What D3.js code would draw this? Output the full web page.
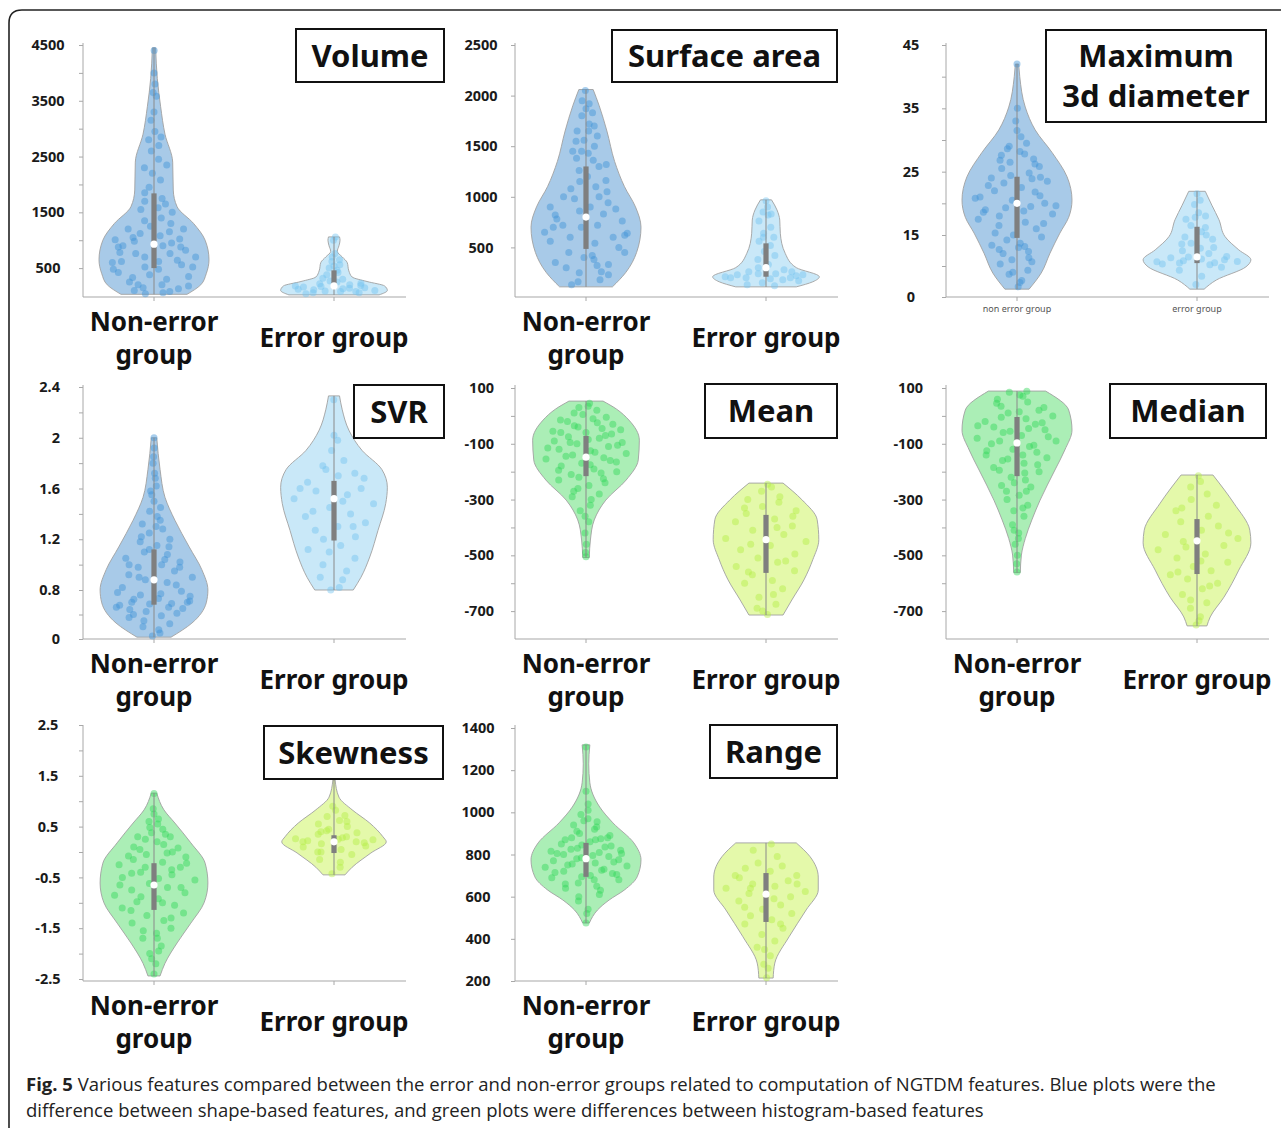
<!DOCTYPE html>
<html>
<head>
<meta charset="utf-8">
<script src="https://cdn.jsdelivr.net/npm/d3@7"></script>
<style>
  body { margin: 0; background: #fff; }
  svg { display: block; }
</style>
</head>
<body>
<div class="figContainer"></div>
<script>
// category labels
var groupNames = [ [ 'Non-error' , 'group' ] , [ 'Error group' ] ];
var smallGroupNames = [ 'non error group' , 'error group' ];

// shape = [value, relative density], box = [q1, median, q3], points = [jitter, value]

// ---- Volume ----
var volumeTicks = [ 500 , 1000 , 1500 , 2000 , 2500 , 3000 , 3500 , 4000 , 4500 ];
var volumeTickLabels = [ '500' , '' , '1500' , '' , '2500' , '' , '3500' , '' , '4500' ];
var volumeNonErrShape = [ [30,.6],[200,.85],[400,.95],[650,1],[1000,.93],[1300,.72],[1600,.42],[1900,.35],[2400,.34],[2900,.2],[3400,.12],[3900,.06],[4450,.03] ];
var volumeNonErrBox = [ 500 , 930 , 1840 ];
var volumeNonErrPoints = [ [-.7,620],[.5,80],[-.3,150],[.8,350],[-.9,600],[.2,900],[-.5,1050],[.6,1020],[-.1,1250],[.4,1150],[-.6,250],[.1,480],[-.8,880],[.9,700],[.3,300],[-.4,760],[.7,820],[-.2,520],[.5,1300],[-.7,1200],[.2,1580],[-.5,1700],[.6,1650],[-.3,1950],[.4,2080],[-.6,2300],[.8,2350],[-.1,2200],[.3,2450],[-.5,2800],[.7,2850],[.1,2950],[-.4,3150],[.5,3580],[-.2,3650],[.3,3800],[0,4000],[.1,4400],[-.8,420],[.9,180],[-.3,40],[.6,560],[-.6,100],[.2,200],[.4,950],[-.9,1010],[.75,1500],[-.55,1850],
    [.3,60],[-.5,330],[.7,130],[-.2,700],[.5,640],[-.75,780],[.15,1080],[-.35,1120],[.85,520],[-.9,480],[.35,760],[-.1,380],[.6,880],[-.45,980],[.25,1400],[-.6,1550],[.45,1750],[-.2,2600],[.4,2700],[0,3300],[-.3,1350],[.8,1200],[-.7,900],[.1,620],[-.4,200] ];
var volumeErrShape = [ [20,.82],[100,.97],[180,.92],[260,.6],[340,.33],[450,.27],[600,.24],[700,.15],[800,.06],[900,.09],[1000,.11],[1060,.1] ];
var volumeErrBox = [ 130 , 180 , 460 ];
var volumeErrPoints = [ [-.8,120],[.7,150],[-.5,60],[.4,200],[-.2,90],[.9,100],[-.9,180],[.2,130],[.6,60],[-.4,220],[.1,250],[-.7,40],[.8,230],[-.3,170],[.5,80],[-.6,320],[.3,420],[-.4,500],[.5,560],[-.2,620],[.6,650],[0,540],[-.5,380],[.2,760],[-.1,1000],[.3,1060],[.4,300],
    [.35,140],[-.45,110],[.65,190],[-.15,270],[.15,80],[-.7,160],[.25,460],[-.25,700] ];

// ---- Surface area ----
var surfaceTicks = [ 500 , 1000 , 1500 , 2000 , 2500 ];
var surfaceTickLabels = [ '500' , '1000' , '1500' , '2000' , '2500' ];
var surfaceNonErrShape = [ [110,.48],[250,.72],[450,.92],[700,1],[900,.9],[1100,.7],[1350,.52],[1650,.38],[1900,.24],[2060,.13] ];
var surfaceNonErrBox = [ 485 , 800 , 1300 ];
var surfaceNonErrPoints = [ [-.6,130],[.5,180],[-.2,250],[.7,230],[-.8,350],[.3,320],[-.4,450],[.9,450],[-.9,650],[.2,540],[.6,600],[-.5,720],[.8,760],[-.1,700],[.4,830],[-.7,820],[.1,900],[-.3,980],[.6,1050],[-.6,1000],[.3,1100],[-.2,1150],[.5,1300],[-.4,1380],[.8,1320],[.1,1430],[-.6,1450],[.4,1500],[-.1,1560],[.6,1600],[-.5,1650],[.2,1720],[-.3,1800],[.5,1830],[0,1870],[-.1,2050],[.3,1920],[-.8,560],[.7,880],[.9,640],[-.3,160],[.2,380],
    [.45,260],[-.55,300],[.15,420],[-.35,600],[.75,500],[-.65,780],[.25,720],[-.15,860],[.55,940],[-.85,900],[.35,1000],[-.45,1080],[.05,1200],[.65,1160],[-.25,1260],[.3,1360],[-.5,1550],[.5,1700],[-.2,1450],[.15,1650],[-.7,700],[.85,620],[-.05,400],[.6,330],[-.4,1950] ];
var surfaceErrShape = [ [110,.55],[160,.85],[210,.97],[300,.55],[440,.35],[640,.26],[770,.25],[870,.2],[970,.1] ];
var surfaceErrBox = [ 210 , 300 , 540 ];
var surfaceErrPoints = [ [-.8,200],[.7,220],[-.5,260],[.4,180],[-.2,240],[.9,230],[-.6,130],[.3,120],[.6,280],[-.3,300],[.1,190],[-.9,210],[.8,170],[-.4,380],[.5,420],[-.1,460],[.3,520],[-.5,560],[.6,600],[-.2,640],[.4,700],[-.6,760],[.2,820],[-.3,850],[.5,830],[0,960],[.2,900],
    [.25,240],[-.7,230],[.55,200],[-.1,150],[.75,260],[-.45,200],[.1,330],[-.2,600] ];

// ---- Maximum 3d diameter ----
var diameterTicks = [ 0 , 7.5 , 15 , 20 , 25 , 30 , 35 , 40 , 45 ];
var diameterTickLabels = [ '0' , '' , '15' , '' , '25' , '' , '35' , '' , '45' ];
var diameterNonErrShape = [ [1.9,.22],[5.8,.44],[10.6,.6],[15.3,.78],[17.8,.94],[20.5,1],[24.2,.91],[28,.64],[31.6,.33],[35.2,.15],[40,.05],[42,.03] ];
var diameterNonErrBox = [ 14.3 , 20 , 24.2 ];
var diameterNonErrPoints = [ [.1,2.5],[.3,4],[-.4,5.5],[.5,6.5],[-.7,8],[-.2,9],[.6,8.5],[-.5,10.5],[.4,11],[-.8,12.5],[.1,13],[-.3,13.8],[.7,14.5],[-.6,15.3],[.5,16],[-.9,17.5],[.2,17],[-.4,18],[.8,18.3],[-.7,19],[.3,19.5],[-.1,20.5],[.6,20],[-.9,20.8],[.4,21.8],[-.5,22],[.1,22.5],[-.3,23.2],[.7,23.5],[-.6,24],[.3,24.8],[-.4,25.5],[.6,25.8],[-.2,26.5],[.5,27],[-.5,27.6],[.1,28.2],[-.3,29],[.4,29.5],[0,31.5],[.05,35],[0,42],
    [.2,3.5],[-.2,6],[.45,9.5],[-.6,11.5],[.25,12.2],[-.1,15],[.65,16.8],[-.45,16.5],[.15,18.8],[-.8,21],[.5,21.2],[-.25,19.3],[.85,19.6],[-.65,22.8],[.35,23.9],[-.15,24.4],[.5,26.2],[-.5,26.8],[.25,27.8],[-.35,28.6],[.2,30.5],[-.1,33],[.55,24.1],[-.75,18.6],[.05,12] ];
var diameterErrShape = [ [1.9,.13],[4.1,.35],[7.3,.89],[9,.98],[11.4,.76],[14.6,.51],[17.4,.4],[19.7,.27],[21.9,.15] ];
var diameterErrBox = [ 8.2 , 9.7 , 16.3 ];
var diameterErrPoints = [ [-.1,3],[.2,5],[-.5,6.5],[.6,7.2],[-.8,8],[.4,8.3],[.9,8.6],[-.3,8.8],[.1,9.2],[-.6,9.5],[.7,9.8],[-.9,8.5],[.3,10.5],[-.4,11.2],[.5,12],[-.2,13],[.6,14],[-.5,14.5],[.2,15.5],[-.3,16.5],[.4,16.2],[-.6,17.5],[.1,18.5],[.5,18],[-.2,19.8],[.3,20.5],[0,21.5],
    [.3,7.8],[-.4,8.2],[.6,9],[-.2,9.7],[.1,11.8],[-.5,12.8],[.4,15],[-.1,17.8] ];

// ---- SVR ----
var svrTicks = [ 0 , .4 , .8 , 1 , 1.2 , 1.4 , 1.6 , 1.8 , 2 , 2.2 , 2.4 ];
var svrTickLabels = [ '0' , '' , '0.8' , '' , '1.2' , '' , '1.6' , '' , '2' , '' , '2.4' ];
var svrNonErrShape = [ [.03,.31],[.26,.69],[.59,.95],[.8,.98],[.96,.87],[1.14,.64],[1.35,.38],[1.53,.2],[1.75,.11],[2,.05] ];
var svrNonErrBox = [ .56 , .88 , 1.12 ];
var svrNonErrPoints = [ [-.1,.05],[.3,.1],[-.4,.2],[.5,.25],[-.7,.35],[.2,.38],[-.2,.45],[.7,.5],[-.8,.55],[.4,.58],[-.5,.6],[.1,.66],[.8,.7],[-.3,.72],[.6,.78],[-.7,.82],[.3,.86],[-.2,.88],[.9,.9],[-.6,.92],[.5,.95],[-.4,.98],[.2,1],[.7,1.02],[-.8,1.05],[.4,1.08],[-.3,1.1],[.1,1.15],[-.5,1.18],[.6,1.2],[-.2,1.25],[.4,1.28],[-.6,1.32],[.2,1.38],[-.3,1.42],[.5,1.45],[0,1.5],[-.4,1.58],[.3,1.62],[.1,1.72],[-.2,1.8],[0,2],[.8,.62],[-.9,.52],
    [.2,.15],[-.3,.3],[.6,.42],[-.6,.48],[.35,.52],[-.1,.57],[.75,.6],[-.45,.65],[.15,.74],[-.8,.76],[.5,.84],[-.35,.9],[.65,.98],[-.65,1],[.3,1.04],[-.15,1.12],[.5,1.14],[-.5,1.22],[.1,1.3],[.35,1.35],[-.25,1.55],[.2,1.68],[-.1,1.85],[.05,1.92],[-.55,.4] ];
var svrErrShape = [ [.8,.35],[.9,.49],[1.06,.65],[1.27,.8],[1.48,.94],[1.61,.97],[1.75,.87],[1.9,.51],[2.06,.27],[2.22,.15],[2.33,.1] ];
var svrErrBox = [ 1.19 , 1.52 , 1.66 ];
var svrErrPoints = [ [-.2,.8],[.3,.82],[-.6,.9],[.5,.95],[-.4,1],[.7,1.05],[-.8,1.12],[.2,1.15],[-.3,1.2],[.6,1.22],[-.5,1.27],[.1,1.3],[.8,1.33],[-.7,1.38],[.4,1.4],[-.1,1.45],[.9,1.48],[-.9,1.52],[.3,1.55],[-.4,1.58],[.6,1.6],[-.6,1.65],[.1,1.7],[.5,1.72],[-.3,1.78],[.3,1.82],[-.1,1.9],[.2,1.98],[0,2.02],[-.05,2.3],
    [.4,.88],[-.15,1.1],[.5,1.3],[-.5,1.42],[.2,1.5],[-.75,1.6],[.7,1.68],[-.2,1.75] ];

// ---- Mean ----
var meanTicks = [ -700 , -600 , -500 , -400 , -300 , -200 , -100 , 0 , 100 ];
var meanTickLabels = [ '-700' , '' , '-500' , '' , '-300' , '' , '-100' , '' , '100' ];
var meanNonErrShape = [ [-508,.06],[-445,.08],[-373,.15],[-302,.36],[-230,.73],[-158,.95],[-87,.97],[-15,.78],[25,.55],[53,.31] ];
var meanNonErrBox = [ -216 , -148 , -72 ];
var meanNonErrPoints = [ [0,-505],[.1,-460],[-.2,-420],[.4,-380],[-.5,-340],[.3,-320],[-.7,-290],[.6,-280],[-.3,-260],[.1,-250],[-.8,-230],[.5,-225],[-.4,-210],[.8,-200],[.2,-190],[-.6,-180],[-.1,-170],[.7,-165],[-.9,-155],[.4,-150],[-.3,-140],[.9,-135],[.1,-125],[-.6,-120],[.5,-110],[-.2,-100],[.8,-95],[-.7,-90],[.3,-80],[-.4,-75],[.6,-65],[0,-60],[-.8,-55],[.4,-45],[-.3,-35],[.7,-30],[-.5,-20],[.2,-10],[-.1,5],[.4,20],[-.3,30],[.2,45],
    [-.1,-360],[.3,-300],[-.5,-270],[.6,-240],[-.2,-220],[.4,-205],[-.7,-195],[.1,-175],[.55,-160],[-.45,-145],[.2,-130],[-.85,-115],[.7,-105],[-.35,-95],[.05,-85],[.45,-70],[-.6,-60],[.85,-50],[-.2,-40],[.3,-25],[-.7,-15],[.6,-5],[-.4,10],[.1,35],[-.15,-490] ];
var meanErrShape = [ [-714,.31],[-660,.47],[-588,.69],[-516,.85],[-444,.96],[-372,.93],[-300,.65],[-241,.31] ];
var meanErrBox = [ -563 , -444 , -355 ];
var meanErrPoints = [ [.1,-712],[-.5,-690],[.5,-675],[-.3,-650],[.6,-620],[-.7,-600],[.2,-590],[-.4,-570],[.8,-555],[-.8,-540],[.3,-525],[-.2,-510],[.7,-495],[-.6,-480],[.1,-465],[.9,-450],[-.9,-440],[.4,-425],[-.3,-410],[.6,-395],[-.7,-380],[.2,-370],[-.5,-350],[.8,-340],[-.1,-325],[.4,-310],[-.6,-300],[.5,-290],[-.2,-270],[.3,-255],[.1,-245],
    [-.2,-700],[.3,-640],[-.5,-560],[.5,-520],[-.35,-460],[.25,-400],[-.6,-330],[.65,-360] ];

// ---- Median ----
var medianTicks = meanTicks;
var medianTickLabels = meanTickLabels;
var medianNonErrShape = [ [-562,.06],[-499,.08],[-440,.15],[-373,.27],[-302,.42],[-194,.69],[-122,.87],[-51,1],[21,.94],[89,.52] ];
var medianNonErrBox = [ -216 , -97 , -4 ];
var medianNonErrPoints = [ [0,-560],[.1,-500],[-.3,-460],[.2,-420],[-.4,-390],[.5,-360],[-.2,-340],[.6,-320],[-.5,-300],[.1,-285],[.4,-270],[-.6,-250],[.3,-230],[-.2,-220],[.7,-200],[-.7,-185],[.2,-170],[-.4,-160],[.8,-150],[-.8,-140],[.5,-130],[-.1,-120],[.3,-110],[-.6,-100],[.9,-90],[-.9,-80],[.1,-70],[-.3,-60],[.6,-50],[-.5,-40],[.4,-30],[-.7,-20],[.2,-10],[.8,0],[-.2,10],[.5,20],[-.4,35],[.3,50],[-.6,60],[.1,75],[-.3,85],[.4,88],
    [-.1,-530],[.2,-440],[-.3,-410],[.35,-330],[-.45,-270],[.55,-255],[-.1,-240],[.25,-205],[-.55,-195],[.6,-175],[-.25,-155],[.15,-140],[-.75,-125],[.4,-105],[-.4,-90],[.7,-75],[-.15,-55],[.25,-45],[-.85,-35],[.55,-25],[-.35,-5],[.05,15],[.65,30],[-.55,45],[.2,70] ];
var medianErrShape = [ [-753,.18],[-721,.24],[-650,.49],[-553,.76],[-455,.98],[-410,.96],[-313,.67],[-212,.29] ];
var medianErrBox = [ -567 , -448 , -370 ];
var medianErrPoints = [ [-.1,-750],[.3,-720],[-.4,-690],[.5,-670],[-.6,-640],[.2,-620],[.7,-600],[-.3,-585],[-.8,-570],[.4,-555],[-.1,-540],[.8,-525],[-.5,-510],[.2,-495],[-.9,-480],[.6,-465],[-.3,-450],[.9,-440],[-.7,-425],[.1,-410],[.5,-395],[-.4,-380],[.3,-360],[-.6,-340],[.6,-320],[-.2,-300],[.4,-280],[-.3,-255],[.2,-235],[.1,-215],
    [.2,-735],[-.3,-660],[.45,-610],[-.55,-560],[.1,-520],[-.25,-470],[.7,-420],[-.45,-330] ];

// ---- Skewness ----
var skewTicks = [ -2.5 , -2 , -1.5 , -1 , -.5 , 0 , .5 , 1 , 1.5 , 2 , 2.5 ];
var skewTickLabels = [ '-2.5' , '' , '-1.5' , '' , '-0.5' , '' , '0.5' , '' , '1.5' , '' , '2.5' ];
var skewNonErrShape = [ [-2.44,.11],[-2.19,.2],[-1.79,.42],[-1.4,.67],[-1,.91],[-.61,.98],[-.22,.93],[.18,.67],[.57,.38],[.83,.18],[1.16,.05] ];
var skewNonErrBox = [ -1.14 , -.65 , -.22 ];
var skewNonErrPoints = [ [0,-2.4],[.2,-2.2],[-.3,-2],[.4,-1.85],[-.5,-1.7],[.1,-1.6],[.6,-1.5],[-.7,-1.4],[.3,-1.35],[-.2,-1.25],[.8,-1.2],[-.8,-1.1],[.5,-1.05],[-.4,-.98],[.1,-.92],[-.9,-.85],[.7,-.8],[-.5,-.75],[.3,-.7],[-.1,-.62],[.9,-.55],[-.7,-.5],[.4,-.45],[-.3,-.4],[.6,-.3],[-.8,-.25],[.2,-.2],[-.5,-.15],[.8,-.1],[-.2,-.05],[.5,0],[-.6,.1],[.3,.15],[-.3,.25],[.6,.3],[-.1,.38],[.4,.45],[.2,.55],[-.3,.6],[0,.75],[0,1.15],
    [-.2,-2.1],[.3,-1.95],[-.4,-1.55],[.5,-1.3],[-.6,-1.15],[.2,-1],[-.3,-.88],[.6,-.7],[-.75,-.65],[.1,-.52],[-.5,-.42],[.4,-.35],[-.2,-.3],[.75,-.22],[-.65,-.08],[.35,-.02],[-.4,.05],[.7,.08],[.1,.2],[-.6,.3],[.45,.35],[-.2,.48],[.3,.65],[-.1,.85],[.15,-1.7] ];
var skewErrShape = [ [-.45,.2],[-.3,.33],[-.02,.67],[.2,.95],[.3,.89],[.57,.65],[.83,.33],[1.08,.09],[1.42,.02] ];
var skewErrBox = [ -.02 , .2 , .33 ];
var skewErrPoints = [ [-.2,-.43],[.4,-.3],[-.6,-.15],[.6,-.05],[-.4,0],[.2,.05],[-.8,.1],[.8,.12],[-.3,.16],[.5,.2],[-.6,.22],[.1,.25],[.9,.24],[-.9,.26],[.3,.3],[-.4,.35],[.6,.38],[-.2,.42],[.4,.5],[-.5,.55],[.2,.62],[-.3,.7],[.5,.72],[.1,.82],[-.1,.9],
    [.3,-.2],[-.5,0],[.7,.18],[-.7,.2],[.2,.28],[-.15,.45],[.45,.6],[-.35,.4] ];

// ---- Range ----
var rangeTicks = [ 200 , 400 , 600 , 800 , 1000 , 1200 , 1400 ];
var rangeTickLabels = [ '200' , '400' , '600' , '800' , '1000' , '1200' , '1400' ];
var rangeNonErrShape = [ [475,.06],[537,.21],[584,.42],[632,.7],[694,.93],[775,1],[855,.87],[950,.49],[1025,.25],[1140,.07],[1230,.05],[1320,.07] ];
var rangeNonErrBox = [ 694 , 780 , 855 ];
var rangeNonErrPoints = [ [0,475],[.2,540],[-.4,580],[.5,610],[-.6,640],[.3,650],[-.2,665],[.8,680],[-.8,690],[.1,700],[.6,710],[-.5,720],[.4,730],[-.9,740],[.9,745],[-.3,755],[.2,760],[-.7,770],[.7,775],[-.1,785],[.5,790],[-.5,800],[.3,810],[-.8,815],[.8,820],[-.2,830],[.6,840],[-.6,850],[.1,860],[.4,875],[-.4,880],[.7,890],[-.2,900],[.3,920],[-.5,940],[.5,955],[.1,970],[-.3,990],[.2,1040],[0,1100],[0,1310],
    [.1,520],[-.3,600],[.45,630],[-.55,660],[.2,680],[-.1,695],[.7,705],[-.7,715],[.35,725],[-.4,750],[.6,765],[-.2,780],[.15,795],[-.65,805],[.8,805],[-.35,825],[.45,835],[-.1,845],[.25,870],[-.55,870],[.6,880],[-.3,910],[.4,930],[-.1,960],[.15,1010] ];
var rangeErrShape = [ [214,.13],[285,.16],[410,.42],[537,.73],[632,.95],[693,.95],[790,.8],[855,.55] ];
var rangeErrBox = [ 480 , 612 , 712 ];
var rangeErrPoints = [ [.1,215],[-.3,280],[.4,320],[-.6,360],[.5,390],[-.2,420],[.7,450],[-.8,470],[.2,490],[-.5,510],[.8,520],[-.1,540],[.4,560],[-.7,580],[.6,600],[-.4,615],[.9,625],[-.9,640],[.2,650],[-.3,660],[.5,675],[-.6,690],[.7,700],[.1,720],[-.5,735],[.4,745],[-.2,760],[.3,790],[-.4,820],[.2,850],
    [.3,260],[-.1,350],[.55,470],[-.6,550],[.2,590],[-.35,640],[.7,660],[-.7,700] ];

// caption
var captionBold = 'Fig. 5';
var captionLine1 = ' Various features compared between the error and non-error groups related to computation of NGTDM features. Blue plots were the';
var captionLine2 = 'difference between shape-based features, and green plots were differences between histogram-based features';

// colour sets: violin fill, dot colour
var palettes = {
    blueDark:   { fill: '#a8cae8' , dot: '#3f92d6' },
    blueLight:  { fill: '#c9e8f8' , dot: '#74c4ef' },
    greenDark:  { fill: '#abeeb6' , dot: '#30d658' },
    greenLight: { fill: '#e4f9aa' , dot: '#b4ee44' }
};

// panels table, built from the arrays above plus layout
var panels = [
    { title: [ 'Volume' ] , col: 0 , row: 0 , domain: [ 0 , 4500 ] , range: [ 296 , 45 ] ,
      ticks: volumeTicks , tickLabels: volumeTickLabels , labelX: -35 , anchor: 'middle' ,
      box: [ 296 , 29 , 148 , 53 ] , pal: [ 'blueDark' , 'blueLight' ] ,
      groups: [ [ volumeNonErrShape , volumeNonErrBox , volumeNonErrPoints ] , [ volumeErrShape , volumeErrBox , volumeErrPoints ] ] },
    { title: [ 'Surface area' ] , col: 1 , row: 0 , domain: [ 0 , 2500 ] , range: [ 298 , 45 ] ,
      ticks: surfaceTicks , tickLabels: surfaceTickLabels , labelX: -34 , anchor: 'middle' ,
      box: [ 612 , 30 , 225 , 52 ] , pal: [ 'blueDark' , 'blueLight' ] ,
      groups: [ [ surfaceNonErrShape , surfaceNonErrBox , surfaceNonErrPoints ] , [ surfaceErrShape , surfaceErrBox , surfaceErrPoints ] ] },
    { title: [ 'Maximum' , '3d diameter' ] , col: 2 , row: 0 , domain: [ 0 , 15 , 45 ] , range: [ 297 , 235 , 45 ] ,
      ticks: diameterTicks , tickLabels: diameterTickLabels , labelX: -35 , anchor: 'middle' , small: true ,
      box: [ 1046 , 30 , 220 , 92 ] , pal: [ 'blueDark' , 'blueLight' ] ,
      groups: [ [ diameterNonErrShape , diameterNonErrBox , diameterNonErrPoints ] , [ diameterErrShape , diameterErrBox , diameterErrPoints ] ] },
    { title: [ 'SVR' ] , col: 0 , row: 1 , domain: [ 0 , .8 , 2.4 ] , range: [ 639 , 590 , 387 ] ,
      ticks: svrTicks , tickLabels: svrTickLabels , labelX: -23 , anchor: 'end' ,
      box: [ 354 , 385 , 90 , 53 ] , pal: [ 'blueDark' , 'blueLight' ] ,
      groups: [ [ svrNonErrShape , svrNonErrBox , svrNonErrPoints ] , [ svrErrShape , svrErrBox , svrErrPoints ] ] },
    { title: [ 'Mean' ] , col: 1 , row: 1 , domain: [ -800 , 100 ] , range: [ 639 , 388 ] ,
      ticks: meanTicks , tickLabels: meanTickLabels , labelX: -21 , anchor: 'end' ,
      box: [ 705 , 384 , 132 , 54 ] , pal: [ 'greenDark' , 'greenLight' ] ,
      groups: [ [ meanNonErrShape , meanNonErrBox , meanNonErrPoints ] , [ meanErrShape , meanErrBox , meanErrPoints ] ] },
    { title: [ 'Median' ] , col: 2 , row: 1 , domain: [ -800 , 100 ] , range: [ 639 , 388 ] ,
      ticks: medianTicks , tickLabels: medianTickLabels , labelX: -23 , anchor: 'end' ,
      box: [ 1110 , 384 , 156 , 54 ] , pal: [ 'greenDark' , 'greenLight' ] ,
      groups: [ [ medianNonErrShape , medianNonErrBox , medianNonErrPoints ] , [ medianErrShape , medianErrBox , medianErrPoints ] ] },
    { title: [ 'Skewness' ] , col: 0 , row: 2 , domain: [ -2.5 , 2.5 ] , range: [ 979 , 725 ] ,
      ticks: skewTicks , tickLabels: skewTickLabels , labelX: -35 , anchor: 'middle' ,
      box: [ 264 , 726 , 179 , 53 ] , pal: [ 'greenDark' , 'greenLight' ] ,
      groups: [ [ skewNonErrShape , skewNonErrBox , skewNonErrPoints ] , [ skewErrShape , skewErrBox , skewErrPoints ] ] },
    { title: [ 'Range' ] , col: 1 , row: 2 , domain: [ 200 , 1400 ] , range: [ 981 , 728 ] ,
      ticks: rangeTicks , tickLabels: rangeTickLabels , labelX: -37 , anchor: 'middle' ,
      box: [ 710 , 725 , 127 , 53 ] , pal: [ 'greenDark' , 'greenLight' ] ,
      groups: [ [ rangeNonErrShape , rangeNonErrBox , rangeNonErrPoints ] , [ rangeErrShape , rangeErrBox , rangeErrPoints ] ] }
];

var rowBottom = [ 297 , 639 , 981 ];
var rowTop = [ 43 , 385 , 725 ];
var colAxis = [ 83 , 515 , 946 ];
var fontBold = '"Noto Sans", "DejaVu Sans", sans-serif';

var svg = d3.select( '.figContainer' )
    .append( 'svg' )
    .attr( 'width' , 1281 )
    .attr( 'height' , 1128 );

// outer frame with the rounded top-left corner
svg.append( 'path' )
    .attr( 'd' , 'M9,1140 V23 Q9,10 22,10 H1300' )
    .attr( 'fill' , 'none' )
    .attr( 'stroke' , '#222' )
    .attr( 'stroke-width' , 1.6 );

// density -> half width in px
var halfWidth = d3.scaleLinear().domain( [ 0 , 1 ] ).range( [ 0 , 55 ] );

panels.forEach( function( p ){
    var x0 = colAxis[ p.col ] , bottom = rowBottom[ p.row ] , top = rowTop[ p.row ];
    var y = d3.scaleLinear().domain( p.domain ).range( p.range );
    var centers = [ x0 + 71 , x0 + 251 ];
    var g = svg.append( 'g' );

    // y axis
    var axis = d3.axisLeft( y )
        .tickValues( p.ticks )
        .tickSize( 4 )
        .tickFormat( function( d , i ){ return p.tickLabels[ i ]; } );
    var ag = g.append( 'g' )
        .attr( 'transform' , 'translate(' + x0 + ',0)' )
        .call( axis )
        .attr( 'font-family' , fontBold )
        .attr( 'font-size' , 14.5 );
    ag.select( '.domain' ).remove();
    ag.selectAll( '.tick line' ).attr( 'stroke' , '#a8a8a8' );
    ag.selectAll( '.tick text' )
        .attr( 'x' , p.labelX )
        .attr( 'text-anchor' , p.anchor )
        .attr( 'font-weight' , 'bold' )
        .attr( 'fill' , '#1a1a1a' );
    ag.append( 'line' )
        .attr( 'y1' , top ).attr( 'y2' , bottom )
        .attr( 'stroke' , '#a8a8a8' ).attr( 'stroke-width' , 1 );

    // x axis
    g.append( 'line' )
        .attr( 'x1' , x0 ).attr( 'x2' , x0 + 323 )
        .attr( 'y1' , bottom ).attr( 'y2' , bottom )
        .attr( 'stroke' , '#a8a8a8' ).attr( 'stroke-width' , 1.2 );
    g.selectAll( null ).data( centers ).enter().append( 'line' )
        .attr( 'x1' , function( d ){ return d; } ).attr( 'x2' , function( d ){ return d; } )
        .attr( 'y1' , bottom ).attr( 'y2' , bottom + 4 )
        .attr( 'stroke' , '#a8a8a8' );

    // violins
    p.groups.forEach( function( grp , gi ){
        var shape = grp[ 0 ] , box = grp[ 1 ] , pts = grp[ 2 ];
        var pal = palettes[ p.pal[ gi ] ];
        var cx = centers[ gi ];
        var local = d3.scaleLinear()
            .domain( shape.map( function( d ){ return d[ 0 ]; } ) )
            .range( shape.map( function( d ){ return d[ 1 ]; } ) )
            .clamp( true );
        var area = d3.area()
            .y( function( d ){ return y( d[ 0 ] ); } )
            .x0( function( d ){ return cx - halfWidth( d[ 1 ] ); } )
            .x1( function( d ){ return cx + halfWidth( d[ 1 ] ); } )
            .curve( d3.curveMonotoneY );

        g.append( 'path' )
            .datum( shape )
            .attr( 'd' , area )
            .attr( 'fill' , pal.fill )
            .attr( 'stroke' , '#a0a0a0' )
            .attr( 'stroke-width' , 0.9 );

        g.selectAll( null ).data( pts ).enter().append( 'circle' )
            .attr( 'cx' , function( d ){ return cx + d[ 0 ] * halfWidth( local( d[ 1 ] ) ) * 0.85; } )
            .attr( 'cy' , function( d ){ return y( d[ 1 ] ); } )
            .attr( 'r' , 3.5 )
            .attr( 'fill' , pal.dot )
            .attr( 'fill-opacity' , 0.45 );

        var vmin = shape[ 0 ][ 0 ] , vmax = shape[ shape.length - 1 ][ 0 ];
        g.append( 'line' )
            .attr( 'x1' , cx ).attr( 'x2' , cx )
            .attr( 'y1' , y( vmin ) ).attr( 'y2' , y( vmax ) )
            .attr( 'stroke' , '#8a8a8a' ).attr( 'stroke-width' , 1 );
        g.append( 'rect' )
            .attr( 'x' , cx - 2.6 ).attr( 'width' , 5.2 )
            .attr( 'y' , y( box[ 2 ] ) ).attr( 'height' , y( box[ 0 ] ) - y( box[ 2 ] ) )
            .attr( 'fill' , '#7f7f7f' );
        g.append( 'circle' )
            .attr( 'cx' , cx ).attr( 'cy' , y( box[ 1 ] ) )
            .attr( 'r' , 3.6 )
            .attr( 'fill' , '#fff' );
    });

    // group labels
    if ( p.small ) {
        g.selectAll( null ).data( smallGroupNames ).enter().append( 'text' )
            .attr( 'x' , function( d , i ){ return centers[ i ]; } )
            .attr( 'y' , bottom + 15 )
            .attr( 'text-anchor' , 'middle' )
            .attr( 'font-family' , fontBold )
            .attr( 'font-size' , 9 )
            .attr( 'fill' , '#555' )
            .text( function( d ){ return d; } );
    } else {
        groupNames.forEach( function( lines , gi ){
            var label = g.append( 'text' )
                .attr( 'y' , lines.length === 2 ? bottom + 34 : bottom + 50 )
                .attr( 'text-anchor' , 'middle' )
                .attr( 'font-family' , fontBold )
                .attr( 'font-weight' , 'bold' )
                .attr( 'font-size' , 26 )
                .attr( 'fill' , '#111' );
            lines.forEach( function( line , li ){
                label.append( 'tspan' )
                    .attr( 'x' , centers[ gi ] )
                    .attr( 'dy' , li === 0 ? 0 : 33 )
                    .text( line );
            });
        });
    }

    // title box
    var b = p.box;
    g.append( 'rect' )
        .attr( 'x' , b[ 0 ] ).attr( 'y' , b[ 1 ] )
        .attr( 'width' , b[ 2 ] ).attr( 'height' , b[ 3 ] )
        .attr( 'fill' , '#fff' )
        .attr( 'stroke' , '#111' ).attr( 'stroke-width' , 2 );
    var lineGap = 40;
    var title = g.append( 'text' )
        .attr( 'y' , b[ 1 ] + b[ 3 ] / 2 + 11 - ( p.title.length - 1 ) * lineGap / 2 )
        .attr( 'text-anchor' , 'middle' )
        .attr( 'font-family' , fontBold )
        .attr( 'font-weight' , 'bold' )
        .attr( 'font-size' , 31 )
        .attr( 'fill' , '#111' );
    p.title.forEach( function( t , ti ){
        title.append( 'tspan' )
            .attr( 'x' , b[ 0 ] + b[ 2 ] / 2 )
            .attr( 'dy' , ti === 0 ? 0 : lineGap )
            .text( t );
    });
});

// caption
var cap = svg.append( 'g' )
    .attr( 'font-family' , '"Open Sans", "Noto Sans", sans-serif' )
    .attr( 'font-size' , 18.5 )
    .attr( 'fill' , '#222' );
var t1 = cap.append( 'text' ).attr( 'x' , 26 ).attr( 'y' , 1091 );
t1.append( 'tspan' ).attr( 'font-weight' , 'bold' ).text( captionBold );
t1.append( 'tspan' ).text( captionLine1 );
cap.append( 'text' ).attr( 'x' , 26 ).attr( 'y' , 1117 ).text( captionLine2 );
</script>
</body>
</html>
